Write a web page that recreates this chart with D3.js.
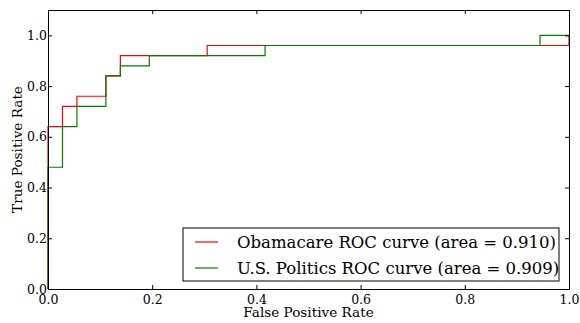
<!DOCTYPE html>
<html>
<head>
<meta charset="utf-8">
<script src="https://cdn.jsdelivr.net/npm/d3@7"></script>
<style>
  body { margin: 0; background: #fff; }
</style>
</head>
<body>
<div id="chart"></div>
<script>
// ROC points (fpr steps of 1/36, tpr steps of 0.04)
const obamaFpr = [0, 0, 1/36, 1/36, 2/36, 2/36, 4/36, 4/36, 5/36, 5/36, 11/36, 11/36, 1, 1]
const obamaTpr = [0, 0.64, 0.64, 0.72, 0.72, 0.76, 0.76, 0.84, 0.84, 0.92, 0.92, 0.96, 0.96, 1.0]
const usFpr = [0, 0, 1/36, 1/36, 2/36, 2/36, 4/36, 4/36, 5/36, 5/36, 7/36, 7/36, 15/36, 15/36, 34/36, 34/36, 1]
const usTpr = [0, 0.48, 0.48, 0.64, 0.64, 0.72, 0.72, 0.84, 0.84, 0.88, 0.88, 0.92, 0.92, 0.96, 0.96, 1.0, 1.0]

const seriesNames = ["Obamacare ROC curve (area = 0.910)", "U.S. Politics ROC curve (area = 0.909)"]
const seriesColors = ["#ff0000", "#008000"]
const xTicks = [0, 0.2, 0.4, 0.6, 0.8, 1.0]
const yTicks = [0, 0.2, 0.4, 0.6, 0.8, 1.0]

const FONT = "'DejaVu Serif', serif"

const W = 580, H = 323
const margin = {top: 10, right: 11, bottom: 34, left: 48}
const width = W - margin.left - margin.right,
      height = H - margin.top - margin.bottom

const svg = d3.select("#chart").append("svg")
    .attr("width", W)
    .attr("height", H)

const g = svg.append("g")
    .attr("transform", `translate(${margin.left},${margin.top})`)

const x = d3.scaleLinear().domain([0, 1]).range([0, width])
const y = d3.scaleLinear().domain([0, 1.1]).range([height, 0])

const line = d3.line()
    .x(d => x(d[0]))
    .y(d => y(d[1]))

const series = [
    d3.zip(obamaFpr, obamaTpr),
    d3.zip(usFpr, usTpr)
]

g.selectAll("path.roc")
  .data(series)
  .join("path")
    .attr("class", "roc")
    .attr("fill", "none")
    .attr("stroke", (d, i) => seriesColors[i])
    .attr("stroke-width", 1.2)
    .attr("d", line)

// axes, ticks pointing inward like matplotlib classic
const fmt = d3.format(".1f")
g.append("g")
    .attr("transform", `translate(0,${height})`)
    .call(d3.axisBottom(x).tickValues(xTicks).tickFormat(fmt).tickSizeInner(-4).tickSizeOuter(0).tickPadding(6))
g.append("g")
    .call(d3.axisTop(x).tickValues(xTicks).tickFormat("").tickSizeInner(-4).tickSizeOuter(0))
g.append("g")
    .call(d3.axisLeft(y).tickValues(yTicks).tickFormat(fmt).tickSizeInner(-4).tickSizeOuter(0).tickPadding(1))
g.append("g")
    .attr("transform", `translate(${width},0)`)
    .call(d3.axisRight(y).tickValues(yTicks).tickFormat("").tickSizeInner(-4).tickSizeOuter(0))

g.selectAll(".domain").attr("stroke", "#000")
g.selectAll(".tick line").attr("stroke", "#000")
g.selectAll(".tick text")
    .attr("fill", "#000")
    .style("font-family", FONT)
    .style("font-size", "12.5px")

// labels
svg.append("text")
    .attr("x", margin.left + width / 2)
    .attr("y", 316.5)
    .attr("text-anchor", "middle")
    .style("font-family", FONT)
    .style("font-size", "13.6px")
    .text("False Positive Rate")

svg.append("text")
    .attr("transform", `translate(21.5,${margin.top + height / 2}) rotate(-90)`)
    .attr("text-anchor", "middle")
    .style("font-family", FONT)
    .style("font-size", "13.6px")
    .text("True Positive Rate")

// legend
const lg = g.append("g")
    .attr("transform", `translate(${width - 386},${height - 61})`)

lg.append("rect")
    .attr("width", 376)
    .attr("height", 53)
    .attr("fill", "#fff")
    .attr("stroke", "#000")
    .attr("stroke-width", 1)

const items = lg.selectAll("g.item")
  .data(seriesNames)
  .join("g")
    .attr("class", "item")
    .attr("transform", (d, i) => `translate(0,${14 + i * 26})`)

items.append("line")
    .attr("x1", 12).attr("x2", 35)
    .attr("stroke", (d, i) => seriesColors[i])
    .attr("stroke-width", 1.2)

items.append("text")
    .attr("x", 54)
    .attr("dy", "0.35em")
    .style("font-family", FONT)
    .style("font-size", "16.5px")
    .text(d => d)
</script>
</body>
</html>
